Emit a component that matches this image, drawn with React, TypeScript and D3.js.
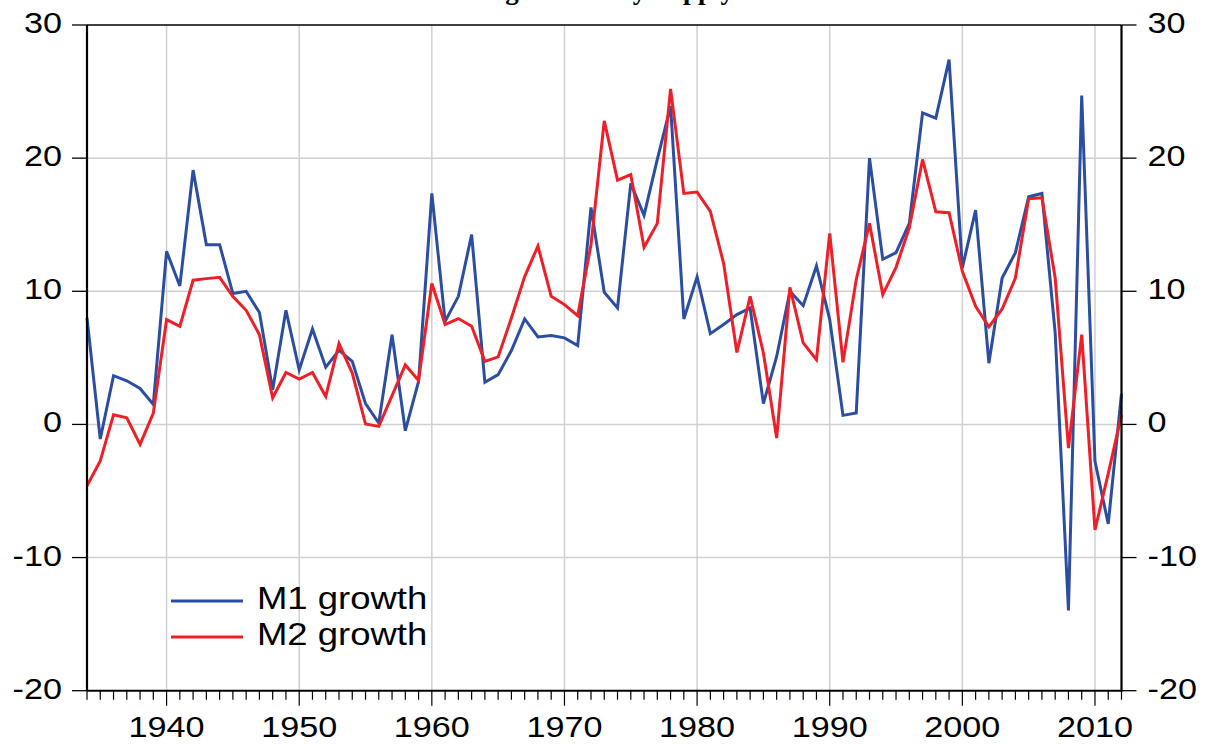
import React from 'react'
import * as d3 from 'd3'

// annual growth rates, 1934-2012
const years = d3.range(1934, 2013)

const m1Growth = [
  8.0, -1.1, 3.66, 3.28, 2.7, 1.5,
  13.0, 10.4, 19.1, 13.5, 13.5, 9.83, 10.0, 8.4, 2.6, 8.57,
  4.1, 7.17, 4.3, 5.56, 4.74, 1.56, 0.1, 6.74, -0.47, 3.23,
  17.35, 7.74, 9.62, 14.26, 3.16, 3.74, 5.55, 7.92, 6.57, 6.67,
  6.5, 5.92, 16.3, 9.92, 8.75, 18.1, 15.7, 19.9, 23.9, 7.92,
  11.08, 6.82, 7.5, 8.25, 8.75, 1.56, 5.1, 10.0, 8.92, 11.9,
  7.87, 0.68, 0.86, 20.0, 12.4, 12.9, 15.1, 23.4, 23.0, 27.4,
  11.76, 16.1, 4.6, 11.0, 12.9, 17.1, 17.35, 6.87, -13.98, 24.7,
  -2.78, -7.47, 2.31,
]

const m2Growth = [
  -4.6, -2.75, 0.73, 0.5, -1.5, 0.85,
  7.87, 7.37, 10.83, 10.95, 11.05, 9.6, 8.57, 6.74, 2.0, 3.9,
  3.41, 3.9, 2.1, 6.07, 3.86, 0.03, -0.15, 2.16, 4.47, 3.3,
  10.58, 7.5, 7.95, 7.37, 4.74, 5.07, 8.0, 11.1, 13.4, 9.62,
  9.0, 8.17, 13.5, 22.8, 18.35, 18.77, 13.3, 15.1, 25.2, 17.35,
  17.45, 16.0, 12.1, 5.4, 9.62, 5.37, -1.02, 10.3, 6.12, 4.86,
  14.34, 4.66, 10.88, 15.1, 9.75, 11.8, 14.76, 19.9, 15.97, 15.9,
  11.5, 8.87, 7.32, 8.67, 11.0, 16.95, 17.02, 11.0, -1.78, 6.74,
  -7.92, -3.7, 0.73,
]

const yTicks = [-20, -10, 0, 10, 20, 30]
const xTicks = [1940, 1950, 1960, 1970, 1980, 1990, 2000, 2010]
const seriesNames = ['M1 growth', 'M2 growth']
const seriesColors = ['#2c4ea2', '#ee1f26']
const title = 'Change of Money Supply'

const width = 1210
const height = 747
const font = '"Liberation Sans", Arial, sans-serif'
const stretch = 1.14

export default function App() {
  const x = d3.scaleLinear().domain([1934, 2012]).range([87, 1121.5])
  const y = d3.scaleLinear().domain([-20, 30]).range([690.7, 25])
  const left = x.range()[0]
  const right = x.range()[1]
  const top = y.range()[1]
  const bottom = y.range()[0]

  const line = d3.line<number>()
    .x((d, i) => x(years[i]))
    .y(d => y(d))

  const series = [m1Growth, m2Growth]

  return (
    <svg width={width} height={height}
      style={{ position: 'absolute', left: 0, top: 0, background: '#fff' }}>
      {/* title, mostly cut off by the top edge */}
      <text x={734} y={-1} textAnchor="end" fontFamily='"Liberation Serif", "Times New Roman", serif'
        fontWeight="bold" fontSize={27}>{title}</text>

      {/* grid */}
      {yTicks.filter(t => t > -20 && t < 30).map(t => (
        <line key={'gy' + t} x1={left} x2={right} y1={y(t)} y2={y(t)} stroke="#d0d0d0" strokeWidth={1.5} />
      ))}
      {xTicks.map(t => (
        <line key={'gx' + t} x1={x(t)} x2={x(t)} y1={top} y2={bottom} stroke="#d0d0d0" strokeWidth={1.5} />
      ))}

      {/* series */}
      {series.map((s, i) => (
        <path key={'s' + i} d={line(s) || ''} fill="none" stroke={seriesColors[i]}
          strokeWidth={3} strokeLinejoin="miter" strokeMiterlimit={4} />
      ))}

      {/* frame */}
      <line x1={left} x2={right} y1={top} y2={top} stroke="#000" strokeWidth={1.5} />
      <line x1={left} x2={right + 1} y1={bottom} y2={bottom} stroke="#000" strokeWidth={2} />
      <line x1={left} x2={left} y1={top} y2={bottom} stroke="#000" strokeWidth={2.2} />
      <line x1={right} x2={right} y1={top} y2={bottom} stroke="#000" strokeWidth={2.2} />

      {/* y axes, both sides */}
      {yTicks.map(t => (
        <g key={'ty' + t}>
          <line x1={left - 15} x2={left} y1={y(t)} y2={y(t)} stroke="#000" strokeWidth={1.3} />
          <line x1={right} x2={right + 15} y1={y(t)} y2={y(t)} stroke="#000" strokeWidth={1.3} />
          <text transform={`translate(${left - 25},${y(t) + 8}) scale(${stretch},1)`} textAnchor="end"
            fontFamily={font} fontSize={30}>{t}</text>
          <text transform={`translate(${right + 26},${y(t) + 8}) scale(${stretch},1)`} textAnchor="start"
            fontFamily={font} fontSize={30}>{t}</text>
        </g>
      ))}

      {/* x axis: yearly minor ticks, decade major ticks */}
      {years.map(yr => (
        <line key={'mx' + yr} x1={x(yr)} x2={x(yr)} y1={bottom} y2={bottom + (xTicks.includes(yr) ? 15 : 9)}
          stroke="#000" strokeWidth={1.2} />
      ))}
      {xTicks.map(t => (
        <text key={'lx' + t} transform={`translate(${x(t)},737) scale(${stretch},1)`} textAnchor="middle"
          fontFamily={font} fontSize={30}>{t}</text>
      ))}

      {/* legend */}
      {seriesNames.map((n, i) => (
        <g key={'lg' + i}>
          <line x1={171} x2={243} y1={601 + i * 36} y2={601 + i * 36} stroke={seriesColors[i]} strokeWidth={2.8} />
          <text transform={`translate(257,${609 + i * 36}) scale(${stretch},1)`} fontFamily={font} fontSize={32}>{n}</text>
        </g>
      ))}
    </svg>
  )
}
